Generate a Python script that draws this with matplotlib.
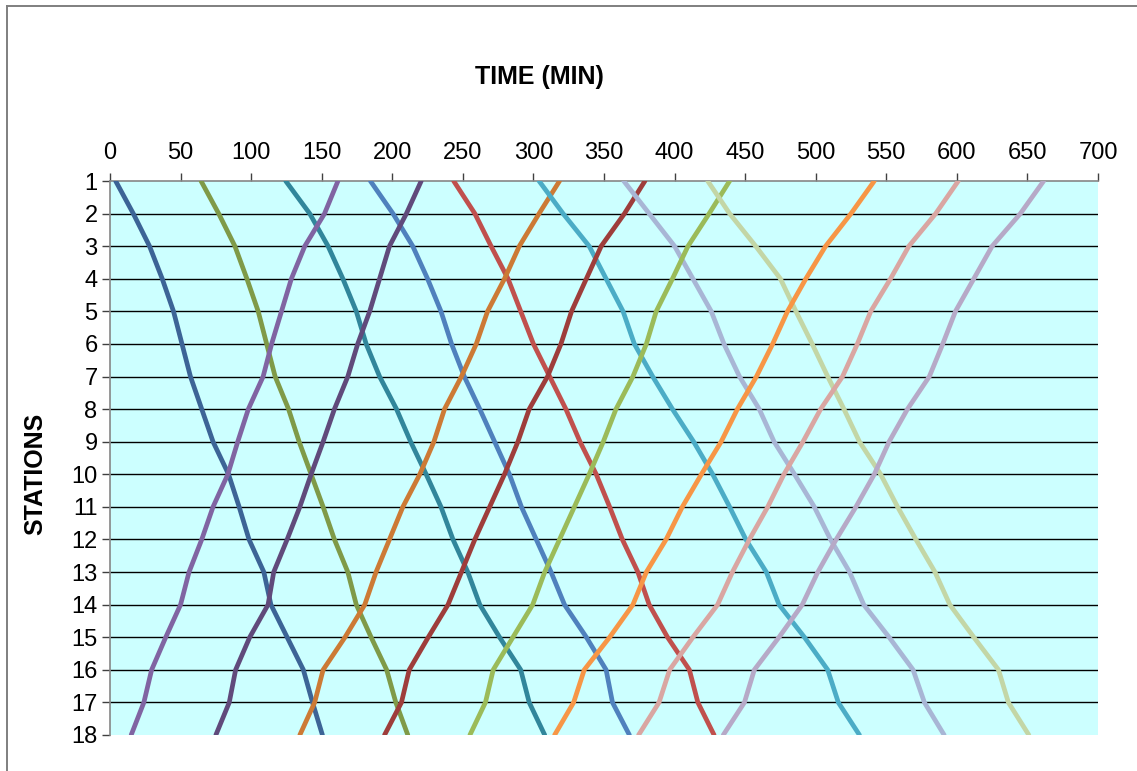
import matplotlib
matplotlib.use("Agg")
import matplotlib.pyplot as plt
from matplotlib.lines import Line2D

plt.rcParams['font.family'] = ['Liberation Sans', 'DejaVu Sans']

# Stations along the line, top to bottom
stations = list(range(1, 19))
x_ticks = list(range(0, 701, 50))

# Time (min) at which each train passes stations 1..18
down_1 = [4, 16.5, 28, 37, 45, 51, 57, 65, 73, 84, 91.5, 98.5, 109, 114, 125.5, 137, 143.5, 150.5]
down_2 = [64.5, 77, 88.5, 97, 105, 111, 117, 126.5, 134, 142.5, 151, 159, 168.5, 174.5, 185, 196, 202.5, 211]
down_3 = [124.5, 141.5, 154.5, 165, 174.5, 181.5, 191, 203, 213, 224, 234.5, 243, 253.5, 262, 276, 291, 297, 308]
up_1 = [161.5, 152, 138, 128.5, 121.5, 114.5, 108.5, 98, 90.5, 83.5, 73, 65, 56, 50, 39.5, 29.5, 24, 15]
down_4 = [184.5, 200.5, 214.5, 225, 234.5, 242, 251, 262, 272.5, 283, 291.5, 302, 312.5, 322, 337.5, 351.5, 356, 368]
up_2 = [220.5, 210, 198, 191, 184, 175.5, 168.5, 159, 151, 142.5, 134.5, 125.5, 116, 112, 99, 89, 84.5, 75]
down_5 = [243.5, 258.5, 270, 282, 291, 300, 311.5, 323, 333, 344.5, 354, 363, 374, 382, 395, 410.5, 416.5, 428]
up_3 = [318.5, 304, 290, 279.5, 267.5, 259.5, 249, 237, 229.5, 219.5, 207.5, 198, 188.5, 180.5, 166.5, 151, 145, 134.5]
down_6 = [304, 321, 339.5, 351.5, 363.5, 371.5, 384.5, 398.5, 413.5, 427, 439, 450.5, 465, 474, 492, 508.5, 516, 531]
up_4 = [379, 364.5, 348, 337.5, 327, 319.5, 310, 297, 289, 279.5, 269, 258.5, 249, 239.5, 225.5, 212, 206.5, 194.5]
down_7 = [364, 382, 400, 413, 426, 435, 446, 460, 470.5, 485, 499, 510.5, 524, 534, 552, 569, 577, 591]
up_5 = [439, 424.5, 409.5, 398.5, 387, 380, 370.5, 358.5, 349.5, 339.5, 329, 318.5, 308, 299.5, 285.5, 271.5, 266, 255]
down_8 = [423.5, 439, 457.5, 475, 486, 497.5, 508.5, 520, 531, 546, 558, 571, 584.5, 595, 612, 629.5, 636.5, 651]
up_6 = [541.5, 525, 507, 493, 480, 469.5, 458, 444.5, 433, 419, 405.5, 394, 380, 370.5, 354, 336, 328.5, 315]
up_7 = [601, 585, 566, 553, 539, 529.5, 519, 503.5, 491, 477.5, 466, 453, 441, 430.5, 413, 396.5, 389, 374.5]
up_8 = [661.5, 645, 625, 612, 599, 590, 580.5, 565, 552, 541.5, 528.5, 514.5, 501.5, 490.5, 474, 456.5, 449.5, 434.5]

trains = [
    (down_1, '#3C6496'), (down_2, '#7F9A48'), (down_3, '#31869B'),
    (up_1, '#8064A2'), (down_4, '#4F81BD'), (up_2, '#604A7B'),
    (down_5, '#C0504D'), (up_3, '#CC7A35'), (down_6, '#4BACC6'),
    (up_4, '#9E3D3B'), (down_7, '#A8B6D5'), (up_5, '#9BBB59'),
    (down_8, '#C3D6A6'), (up_6, '#F79646'), (up_7, '#D9A6A2'),
    (up_8, '#B6A9C7'),
]

W, H = 1137, 771
fig = plt.figure(figsize=(W / 100, H / 100), dpi=100)
ax = fig.add_axes([110 / W, 1 - 735 / H, (1098 - 110) / W, (735 - 181) / H])
ax.set_facecolor('#CCFFFF')

# horizontal station lines
ax.hlines(stations[1:-1], 0, 700, color='black', lw=1.0, zorder=1)

for times, color in trains:
    ax.plot(times, stations, color=color, lw=3.4, solid_capstyle='round',
            solid_joinstyle='round', zorder=3)

ax.set_xlim(0, 700)
ax.set_ylim(18, 1)
ax.set_xticks(x_ticks)
ax.set_yticks(stations)
ax.xaxis.tick_top()
ax.tick_params(axis='x', direction='out', length=6, width=1, color='#404040',
               labelsize=17, pad=6)
ax.tick_params(axis='y', direction='out', length=6, width=1, color='#404040',
               labelsize=17, pad=3)

for side in ('right', 'bottom'):
    ax.spines[side].set_visible(False)
for side in ('top', 'left'):
    ax.spines[side].set_color('#868686')
    ax.spines[side].set_linewidth(1.2)

fig.text(539 / W, 1 - 77 / H, 'TIME (MIN)', ha='center', va='center',
         fontsize=18, fontweight='bold')
fig.text(35 / W, 1 - 474 / H, 'STATIONS', ha='center', va='center',
         rotation=90, fontsize=18, fontweight='bold')

# outer chart frame (left and top edges)
fig.add_artist(Line2D([7 / W, 7 / W], [0, 1 - 6 / H], color='#7F7F7F', lw=1.4))
fig.add_artist(Line2D([7 / W, 1], [1 - 6 / H, 1 - 6 / H], color='#7F7F7F', lw=1.4))

fig.savefig('out.png', dpi=100)
